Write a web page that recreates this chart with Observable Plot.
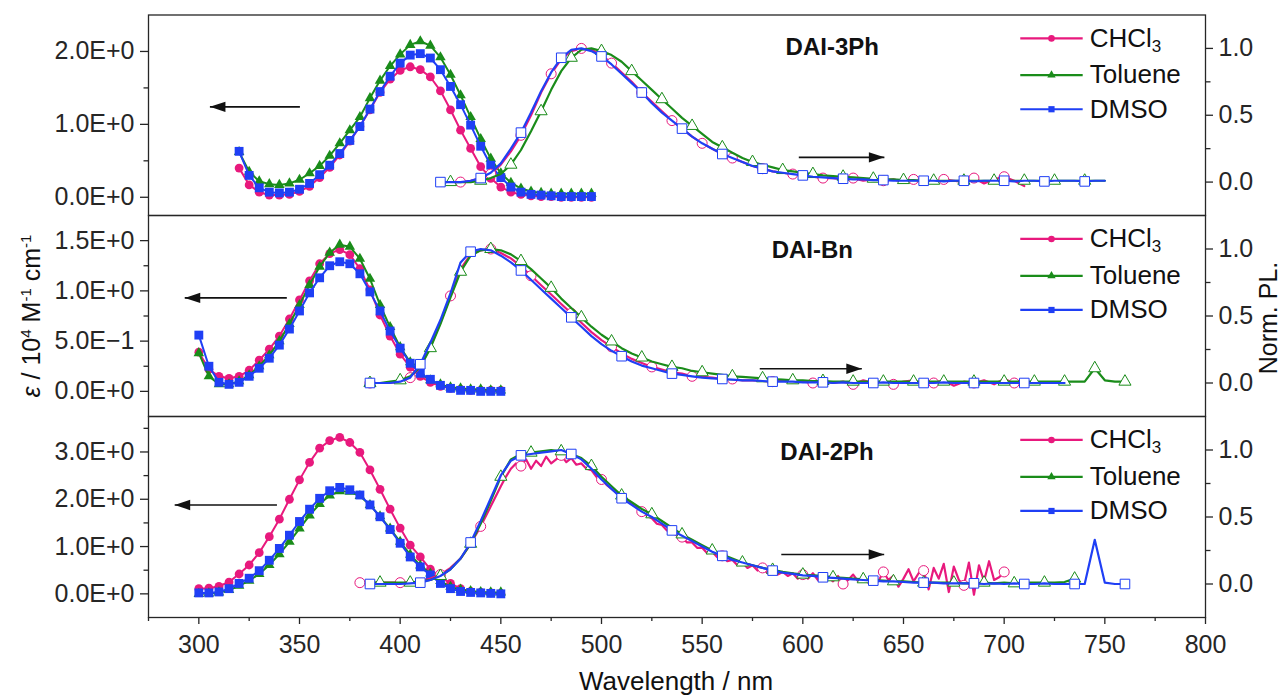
<!DOCTYPE html>
<html>
<head>
<meta charset="utf-8">
<script src="https://cdn.jsdelivr.net/npm/d3@7"></script>
<script src="https://cdn.jsdelivr.net/npm/@observablehq/plot@0.6"></script>
<style>
  html, body { margin: 0; padding: 0; background: #fff; }
  #chart { position: relative; width: 1287px; height: 700px; overflow: hidden; background: #fff;
           font-family: "Liberation Sans", Arial, Helvetica, sans-serif; color: #111; }
  #chart svg { position: absolute; left: 0; top: 0; }
  .lbl { position: absolute; white-space: nowrap; line-height: 1; }
  .lbl sup { font-size: 15px; vertical-align: 0.6em; line-height: 0; }
</style>
</head>
<body>
<div id="chart"></div>
<script>
// ---------------- data ----------------
const solvents = ["CHCl3", "Toluene", "DMSO"];
const panelNames = ["DAI-3Ph", "DAI-Bn", "DAI-2Ph"];

const xMajorTicks = [300, 350, 400, 450, 500, 550, 600, 650, 700, 750, 800];
const xMinorTicks = [275, 325, 375, 425, 475, 525, 575, 625, 675, 725, 775];
const yMajor3Ph = [0, 1, 2];
const yMinor3Ph = [0.5, 1.5];
const yMajorBn = [0, 0.5, 1, 1.5];
const yMinorBn = [0.25, 0.75, 1.25];
const yMajor2Ph = [0, 1, 2, 3];
const yMinor2Ph = [0.5, 1.5, 2.5, 3.5];
const yMajorPL = [0, 0.5, 1];
const yMinorPL = [0.25, 0.75];

// ---- DAI-3Ph ----
const abs3PhWl = [320,325,330,335,340,345,350,355,360,365,370,375,380,385,390,395,400,405,410,415,420,425,430,435,440,445,450,455,460,465,470,475,480,485,490,495];
const abs3PhCHCl3 = [0.40,0.17,0.07,0.03,0.03,0.04,0.08,0.15,0.27,0.41,0.58,0.77,0.97,1.20,1.44,1.62,1.74,1.79,1.75,1.65,1.46,1.20,0.92,0.67,0.42,0.26,0.14,0.07,0.04,0.02,0.01,0.01,0.0,0.0,0.0,0.0];
const abs3PhToluene = [0.62,0.35,0.22,0.18,0.17,0.19,0.24,0.33,0.43,0.57,0.74,0.92,1.10,1.36,1.60,1.80,1.96,2.09,2.14,2.08,1.92,1.68,1.40,1.10,0.80,0.53,0.33,0.20,0.12,0.08,0.06,0.05,0.05,0.05,0.05,0.05];
const abs3PhDMSO = [0.63,0.30,0.13,0.07,0.06,0.07,0.11,0.19,0.31,0.44,0.60,0.78,0.97,1.21,1.45,1.66,1.84,1.95,1.97,1.91,1.75,1.52,1.27,0.99,0.70,0.44,0.27,0.14,0.07,0.04,0.03,0.02,0.01,0.01,0.01,0.01];
const em3PhWl = [420,425,430,435,440,445,450,455,460,465,470,475,480,485,490,495,500,505,510,515,520,525,530,535,540,545,550,555,560,565,570,575,580,585,590,595,600,605,610,615,620,625,630,635,640,645,650,655,660,665,670,675,680,685,690,695,700,705,710,715,720,725,730,735,740,745,750];
const em3PhCHCl3 = [0.0,0.0,0.0,0.01,0.03,0.06,0.13,0.23,0.35,0.50,
  0.67,0.81,0.92,0.98,1.0,0.99,0.95,0.89,0.82,0.75,
  0.67,0.60,0.53,0.46,0.40,0.34,0.29,0.25,0.21,0.18,
  0.15,0.12,0.10,0.08,0.07,0.06,0.05,0.04,0.03,0.03,
  0.02,0.03,0.01,0.02,0.01,0.02,0.0,0.02,0.01,0.0,
  0.02,0.01,0.0,0.03,-0.01,0.02,0.04,0.01,-0.03];
const em3PhToluene = [0.0,0.0,0.0,0.0,0.01,0.03,0.06,0.13,0.24,0.38,
  0.53,0.69,0.83,0.93,0.99,1.0,0.98,0.95,0.90,0.83,
  0.76,0.69,0.62,0.55,0.48,0.42,0.36,0.30,0.26,0.22,
  0.18,0.15,0.13,0.11,0.09,0.08,0.07,0.06,0.05,0.045,
  0.04,0.035,0.03,0.025,0.02,0.02,0.015,0.015,0.01,0.01,
  0.01,0.01,0.01,0.01,0.01,0.01,0.01,0.01,0.01,0.01,
  0.01,0.01,0.01,0.01,0.01,0.01,0.01];
const em3PhDMSO = [0.0,0.0,0.0,0.01,0.03,0.07,0.14,0.25,0.37,0.52,
  0.68,0.82,0.93,0.99,1.0,0.98,0.94,0.88,0.81,0.74,
  0.67,0.59,0.52,0.46,0.40,0.34,0.29,0.25,0.21,0.18,
  0.15,0.12,0.10,0.08,0.07,0.06,0.05,0.04,0.035,0.03,
  0.025,0.02,0.02,0.015,0.015,0.01,0.01,0.01,0.01,0.01,
  0.005,0.01,0.01,0.005,0.01,0.01,0.01,0.005,0.01,0.01,
  0.005,0.01,0.01,0.01,0.005,0.01,0.01];

// ---- DAI-Bn ----
const absBnWl = [300,305,310,315,320,325,330,335,340,345,350,355,360,365,370,375,380,385,390,395,400,405,410,415,420,425,430,435,440,445,450];
const absBnCHCl3 = [0.39,0.22,0.15,0.13,0.15,0.21,0.31,0.42,0.55,0.72,0.91,1.10,1.27,1.37,1.41,1.36,1.22,1.01,0.76,0.55,0.37,0.24,0.15,0.09,0.05,0.03,0.02,0.01,0.01,0.01,0.01];
const absBnToluene = [0.38,0.15,0.07,0.07,0.10,0.16,0.25,0.36,0.50,0.67,0.86,1.06,1.24,1.38,1.46,1.44,1.32,1.12,0.86,0.64,0.44,0.29,0.18,0.11,0.07,0.04,0.03,0.02,0.02,0.01,0.01];
const absBnDMSO = [0.56,0.25,0.09,0.07,0.09,0.15,0.23,0.33,0.46,0.62,0.80,0.98,1.13,1.25,1.29,1.27,1.17,0.99,0.80,0.60,0.43,0.28,0.18,0.12,0.06,0.03,0.01,0.01,0.0,0.0,0.0];
const emBnWl = [385,390,395,400,405,410,415,420,425,430,435,440,445,450,455,460,465,470,475,480,485,490,495,500,505,510,515,520,525,530,535,540,545,550,555,560,565,570,575,580,585,590,595,600,605,610,615,620,625,630,635,640,645,650,655,660,665,670,675,680,685,690,695,700,705,710,715,720,725,730,735,740,745,750,755,760];
const emBnCHCl3 = [0.0,0.0,0.0,0.01,0.04,0.12,0.27,0.45,0.65,0.85,
  0.96,0.99,1.0,0.97,0.93,0.87,0.80,0.73,0.66,0.59,
  0.52,0.45,0.38,0.32,0.27,0.22,0.18,0.15,0.12,0.10,
  0.08,0.07,0.05,0.045,0.04,0.03,0.03,0.02,0.02,0.015,
  0.01,0.02,0.0,0.01,0.0,0.02,0.0,0.01,-0.01,0.02,
  0.0,0.01,-0.01,0.01,0.02,-0.01,0.0,0.02,-0.02,0.01,
  0.0,0.02,-0.01,0.03,0.0];
const emBnToluene = [0.0,0.0,0.01,0.02,0.05,0.12,0.26,0.44,0.64,0.83,
  0.95,0.99,1.0,0.99,0.96,0.91,0.85,0.78,0.71,0.63,
  0.56,0.49,0.42,0.36,0.31,0.26,0.22,0.19,0.16,0.14,
  0.12,0.11,0.09,0.08,0.07,0.06,0.05,0.045,0.04,0.035,
  0.03,0.025,0.02,0.02,0.015,0.015,0.01,0.01,0.01,0.01,
  0.01,0.01,0.01,0.01,0.01,0.01,0.01,0.01,0.01,0.01,
  0.01,0.01,0.01,0.01,0.01,0.01,0.01,0.01,0.01,0.01,
  0.01,0.01,0.11,0.02,0.01,0.01];
const emBnDMSO = [0.0,0.0,0.0,0.01,0.04,0.14,0.30,0.47,0.67,0.90,
  0.98,1.0,0.99,0.95,0.90,0.84,0.77,0.70,0.63,0.56,
  0.49,0.42,0.35,0.29,0.24,0.20,0.16,0.13,0.11,0.09,
  0.07,0.06,0.05,0.04,0.035,0.03,0.025,0.02,0.02,0.015,
  0.01,0.01,0.01,0.005,0.005,0.005,0.0,0.005,0.0,0.0,
  0.0,0.005,0.0,0.0,0.0,0.0,0.0,0.005,0.0,0.0,
  0.0,0.0,0.0,0.0,0.0,0.0,0.0,0.0,0.0,0.0];

// ---- DAI-2Ph ----
const abs2PhWl = [300,305,310,315,320,325,330,335,340,345,350,355,360,365,370,375,380,385,390,395,400,405,410,415,420,425,430,435,440,445,450];
const abs2PhCHCl3 = [0.11,0.12,0.16,0.25,0.42,0.61,0.87,1.21,1.58,2.00,2.41,2.78,3.08,3.24,3.31,3.20,2.99,2.62,2.21,1.79,1.39,1.03,0.78,0.52,0.36,0.22,0.11,0.05,0.03,0.02,0.01];
const abs2PhToluene = [0.0,0.01,0.03,0.08,0.17,0.28,0.42,0.61,0.84,1.10,1.38,1.66,1.90,2.08,2.17,2.16,2.07,1.88,1.64,1.38,1.10,0.83,0.60,0.43,0.27,0.15,0.09,0.06,0.04,0.03,0.03];
const abs2PhDMSO = [0.02,0.02,0.04,0.11,0.22,0.33,0.49,0.71,0.96,1.24,1.53,1.79,2.02,2.18,2.25,2.20,2.09,1.88,1.63,1.36,1.07,0.78,0.57,0.40,0.22,0.11,0.05,0.03,0.02,0.01,0.0];
const em2PhWl = [385,390,395,400,405,410,415,420,425,430,435,440,445,450,455,460,465,470,475,480,485,490,495,500,505,510,515,520,525,530,535,540,545,550,555,560,565,570,575,580,585,590,595,600,605,610,615,620,625,630,635,640,645,650,655,660,665,670,675,680,685,690,695,700,705,710,715,720,725,730,735,740,745,750,755,760];
const em2PhCHCl3Wl = [380,385,390,395,400,405,410,415,420,425,430,435,440,445,450,
  452.5,455,457.5,460,462.5,465,467.5,470,472.5,475,
  477.5,480,482.5,485,487.5,490,492.5,495,497.5,500,
  502.5,505,507.5,510,512.5,515,517.5,520,522.5,525,
  527.5,530,532.5,535,537.5,540,542.5,545,547.5,550,
  552.5,555,557.5,560,562.5,565,567.5,570,572.5,575,
  577.5,580,582.5,585,587.5,590,592.5,595,597.5,600,
  602.5,605,607.5,610,612.5,615,617.5,620,622.5,625,
  627.5,630,632.5,635,637.5,640,642.5,645,647.5,650,
  652.5,655,657.5,660,662.5,665,667.5,670,672.5,675,
  677.5,680,682.5,685,687.5,690,692.5,695,697.5,700];
const em2PhCHCl3 = [0.01,0.01,0.01,0.01,0.01,0.01,0.02,0.04,0.07,0.12,0.19,0.30,0.43,0.58,0.73,
  0.80,0.86,0.90,0.88,0.93,0.86,0.92,0.88,0.95,0.90,
  0.93,0.96,0.91,0.94,0.89,0.90,0.86,0.85,0.80,0.78,
  0.74,0.71,0.68,0.66,0.62,0.60,0.57,0.54,0.51,0.49,
  0.45,0.44,0.40,0.39,0.36,0.35,0.31,0.31,0.27,0.27,
  0.23,0.24,0.20,0.21,0.17,0.18,0.14,0.16,0.12,0.14,
  0.10,0.12,0.08,0.11,0.07,0.09,0.06,0.08,0.04,0.07,
  0.04,0.08,0.03,0.07,0.05,0.02,0.06,0.00,0.03,0.07,
  0.02,0.04,0.01,0.05,0.02,0.09,0.03,0.06,-0.02,0.04,
  0.11,0.02,0.08,0.10,-0.04,0.12,0.04,0.15,-0.06,0.13,
  0.03,-0.01,0.16,-0.08,0.14,0.02,0.17,0.03,0.05,0.09];
const em2PhToluene = [0.01,0.01,0.01,0.01,0.01,0.02,0.03,0.06,0.11,0.19,
  0.30,0.45,0.62,0.80,0.93,0.97,0.98,0.99,1.0,0.99,
  0.97,0.94,0.88,0.80,0.73,0.66,0.61,0.56,0.52,0.47,
  0.42,0.37,0.33,0.29,0.25,0.22,0.19,0.16,0.14,0.12,
  0.105,0.09,0.08,0.07,0.065,0.06,0.05,0.045,0.04,0.035,
  0.03,0.025,0.02,0.02,0.015,0.01,0.01,0.01,0.01,0.005,
  0.005,0.01,0.005,0.01,0.005,0.01,0.01,0.01,0.01,0.015,0.04];
const em2PhDMSO = [0.0,0.0,0.0,0.0,0.005,0.01,0.03,0.06,0.11,0.19,
  0.31,0.47,0.64,0.81,0.92,0.96,0.97,0.98,0.99,1.0,
  0.97,0.93,0.86,0.78,0.71,0.64,0.59,0.54,0.50,0.45,
  0.40,0.36,0.32,0.28,0.24,0.21,0.18,0.16,0.14,0.12,
  0.10,0.085,0.075,0.065,0.06,0.05,0.045,0.04,0.035,0.03,
  0.025,0.02,0.02,0.015,0.01,0.01,0.01,0.005,0.005,0.005,
  0.005,0.0,0.005,0.0,0.005,0.0,0.0,0.005,0.0,0.0,
  0.0,0.0,0.33,0.01,0.0,0.0];

// ---------------- style / layout ----------------
const FONT = '"Liberation Sans", Arial, Helvetica, sans-serif';
const AX = "#262626";
const COLORS = {CHCl3: "#e8197d", Toluene: "#1a8c1a", DMSO: "#1f3ff5"};
const SYMBOLS = {CHCl3: "circle", Toluene: "triangle", DMSO: "square"};
const ABS_R = {CHCl3: 4.4, Toluene: 3.9, DMSO: 5.0};
const EM_R = {CHCl3: 5.0, Toluene: 4.5, DMSO: 5.4};
const LEG_R = {CHCl3: 3.3, Toluene: 3.1, DMSO: 3.5};
const xDomain = [275, 800];
const legendY = [1.075, 0.80, 0.545];
const LEG = {x1: 708, x2: 739, xm: 723.5, xt: 742.5};

const arrowHead = { draw(ctx) { ctx.moveTo(0, 0); ctx.lineTo(-15.5, -5.2); ctx.lineTo(-15.5, 5.2); ctx.closePath(); } };
const sci = d => d3.format(".1e")(d).replace("e", "E").replace("-", "\u2212");
const rows = (wl, vals) => vals.map((v, i) => ({wl: wl[i], v}));

const panels = [
  { name: panelNames[0], top: 14.5, bottom: 215, yDomain: [-0.25, 2.5], yMajor: yMajor3Ph, yMinor: yMinor3Ph,
    abs: {CHCl3: rows(abs3PhWl, abs3PhCHCl3), Toluene: rows(abs3PhWl, abs3PhToluene), DMSO: rows(abs3PhWl, abs3PhDMSO)},
    em: {CHCl3: rows(em3PhWl, em3PhCHCl3), Toluene: rows(em3PhWl, em3PhToluene), DMSO: rows(em3PhWl, em3PhDMSO)},
    marks: {CHCl3: [430, 15], Toluene: [425, 15], DMSO: [420, 20]},
    la: [{x1: 350.2, x2: 305.5, y: 1.24}], ra: [{x1: 598, x2: 640.5, y: 0.185}],
    title: [{x: 614.6, y: 1.01, t: panelNames[0]}] },
  { name: panelNames[1], top: 215, bottom: 416, yDomain: [-0.25, 1.75], yMajor: yMajorBn, yMinor: yMinorBn,
    abs: {CHCl3: rows(absBnWl, absBnCHCl3), Toluene: rows(absBnWl, absBnToluene), DMSO: rows(absBnWl, absBnDMSO)},
    em: {CHCl3: rows(emBnWl, emBnCHCl3), Toluene: rows(emBnWl, emBnToluene), DMSO: rows(emBnWl, emBnDMSO)},
    marks: {CHCl3: [385, 20], Toluene: [385, 15], DMSO: [385, 25]},
    la: [{x1: 343.7, x2: 293, y: 0.93}], ra: [{x1: 578.6, x2: 629.3, y: 0.106}],
    title: [{x: 604.7, y: 0.99, t: panelNames[1]}] },
  { name: panelNames[2], top: 416, bottom: 617, yDomain: [-0.5, 3.75], yMajor: yMajor2Ph, yMinor: yMinor2Ph,
    abs: {CHCl3: rows(abs2PhWl, abs2PhCHCl3), Toluene: rows(abs2PhWl, abs2PhToluene), DMSO: rows(abs2PhWl, abs2PhDMSO)},
    em: {CHCl3: rows(em2PhCHCl3Wl, em2PhCHCl3), Toluene: rows(em2PhWl, em2PhToluene), DMSO: rows(em2PhWl, em2PhDMSO)},
    marks: {CHCl3: [380, 20], Toluene: [390, 15], DMSO: [385, 25]},
    la: [{x1: 338.8, x2: 288, y: 1.88}], ra: [{x1: 589.3, x2: 640.4, y: 0.22}],
    title: [{x: 612, y: 0.98, t: panelNames[2]}] }
];

function base(p, yDomain, marks) {
  return Plot.plot({
    width: 1287, height: 700,
    marginLeft: 148, marginRight: 82, marginTop: p.top, marginBottom: 700 - p.bottom,
    x: {domain: xDomain, axis: null},
    y: {domain: yDomain, axis: null},
    style: {background: "transparent", fontFamily: FONT, fontSize: "25px", color: "#111"},
    marks
  });
}

function absPlot(p, isBottom) {
  const marks = [];
  for (const s of solvents) {
    const d = p.abs[s];
    marks.push(Plot.line(d, {x: "wl", y: "v", stroke: COLORS[s], strokeWidth: 2}));
    marks.push(Plot.dot(d, {x: "wl", y: "v", symbol: SYMBOLS[s], r: ABS_R[s], fill: COLORS[s], stroke: "none"}));
  }
  marks.push(Plot.link(p.la, {x1: "x1", x2: "x2", y1: "y", y2: "y", stroke: "#111", strokeWidth: 1.6}));
  marks.push(Plot.dot(p.la, {x: "x2", y: "y", symbol: arrowHead, r: 5, fill: "#111", stroke: "none", rotate: 180}));
  marks.push(Plot.axisY({anchor: "left", ticks: p.yMinor, tickSize: 4.5, tickFormat: () => "", label: null, color: AX, strokeWidth: 1.3}));
  marks.push(Plot.axisY({anchor: "left", ticks: p.yMajor, tickSize: 8, tickPadding: 6, tickFormat: sci, label: null, fontSize: 25, color: AX, strokeWidth: 1.3}));
  if (isBottom) {
    marks.push(Plot.axisX({anchor: "bottom", ticks: xMinorTicks, tickSize: 4, tickFormat: () => "", label: null, color: AX, strokeWidth: 1.3}));
    marks.push(Plot.axisX({anchor: "bottom", ticks: xMajorTicks, tickSize: 7, tickPadding: 11, tickFormat: d => String(d), label: null, fontSize: 25, color: AX, strokeWidth: 1.3}));
  }
  marks.push(Plot.frame({stroke: AX, strokeWidth: 1.3}));
  return base(p, p.yDomain, marks);
}

function emPlot(p) {
  const marks = [];
  for (const s of solvents) {
    const d = p.em[s];
    const [start, step] = p.marks[s];
    const m = d.filter(r => r.wl >= start && Math.abs((r.wl - start) % step) < 1e-6);
    marks.push(Plot.line(d, {x: "wl", y: "v", stroke: COLORS[s], strokeWidth: 2.2}));
    marks.push(Plot.dot(m, {x: "wl", y: "v", symbol: SYMBOLS[s], r: EM_R[s], fill: "white", stroke: COLORS[s], strokeWidth: 1}));
  }
  marks.push(Plot.link(p.ra, {x1: "x1", x2: "x2", y1: "y", y2: "y", stroke: "#111", strokeWidth: 1.6}));
  marks.push(Plot.dot(p.ra, {x: "x2", y: "y", symbol: arrowHead, r: 5, fill: "#111", stroke: "none"}));
  marks.push(Plot.text(p.title, {x: "x", y: "y", text: "t", fontWeight: "bold", fontSize: 24, fill: "#111"}));
  solvents.forEach((s, i) => {
    const row = [{y: legendY[i], x1: LEG.x1, x2: LEG.x2, xm: LEG.xm, xt: LEG.xt, t: s}];
    marks.push(Plot.link(row, {x1: "x1", x2: "x2", y1: "y", y2: "y", stroke: COLORS[s], strokeWidth: 2.2}));
    marks.push(Plot.dot(row, {x: "xm", y: "y", symbol: SYMBOLS[s], r: LEG_R[s], fill: COLORS[s], stroke: "none"}));
    marks.push(Plot.text(row, {x: "xt", y: "y", text: "t", textAnchor: "start", fontSize: 26, fill: "#111"}));
  });
  marks.push(Plot.axisY({anchor: "right", ticks: yMinorPL, tickSize: 4.5, tickFormat: () => "", label: null, color: AX, strokeWidth: 1.3}));
  marks.push(Plot.axisY({anchor: "right", ticks: yMajorPL, tickSize: 7, tickPadding: 6, tickFormat: d3.format(".1f"), label: null, fontSize: 25, color: AX, strokeWidth: 1.3}));
  return base(p, [-0.25, 1.25], marks);
}

const chart = document.getElementById("chart");
panels.forEach((p, i) => {
  chart.appendChild(absPlot(p, i === panels.length - 1));
  chart.appendChild(emPlot(p));
});

// subscript 3 in CHCl3
const NS = "http://www.w3.org/2000/svg";
chart.querySelectorAll("text").forEach(t => {
  if (t.textContent === "CHCl3") {
    t.textContent = "CHCl";
    const ts = document.createElementNS(NS, "tspan");
    ts.setAttribute("dy", "0.3em");
    ts.setAttribute("font-size", "17");
    ts.textContent = "3";
    t.appendChild(ts);
  }
});

// axis titles
function addLabel(html, x, y, size, rot) {
  const d = document.createElement("div");
  d.className = "lbl";
  d.innerHTML = html;
  d.style.left = x + "px";
  d.style.top = y + "px";
  d.style.fontSize = size + "px";
  d.style.transform = "translate(-50%,-50%)" + (rot ? ` rotate(${rot}deg)` : "");
  chart.appendChild(d);
}
addLabel('<i>\u03b5</i> / 10<sup>4</sup> M<sup>-1</sup> cm<sup>-1</sup>', 31, 316, 25, -90);
addLabel('Norm. PL.', 1268, 318, 25, -90);
addLabel('Wavelength / nm', 676, 681, 26, 0);
</script>
</body>
</html>
